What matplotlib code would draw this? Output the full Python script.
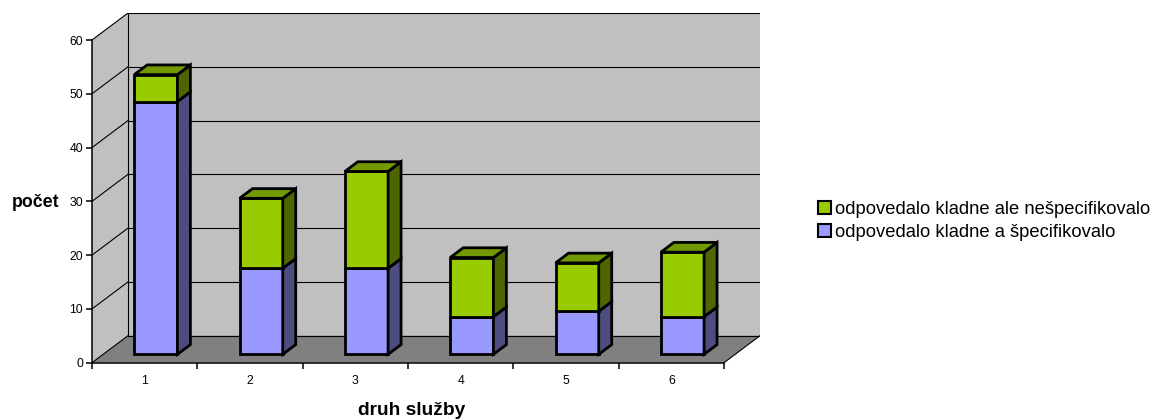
import numpy as np
import matplotlib
matplotlib.use("Agg")
import matplotlib.pyplot as plt
from matplotlib.patches import Polygon, Patch

plt.rcParams["font.family"] = ["Liberation Sans", "DejaVu Sans"]

# data
categories = [1, 2, 3, 4, 5, 6]
specifikovalo = [47, 16, 16, 7, 8, 7]       # odpovedalo kladne a špecifikovalo
nespecifikovalo = [5, 13, 18, 11, 9, 12]    # odpovedalo kladne ale nešpecifikovalo
yticks = [0, 10, 20, 30, 40, 50, 60]

# colours (Excel 3D style)
blue_front, blue_side = "#9999FF", "#4D4D80"
green_front, green_top, green_side = "#99CC00", "#739900", "#4D6600"
wall, floor = "#C0C0C0", "#808080"

W, H = 1157, 419
fig = plt.figure(figsize=(W / 100, H / 100), dpi=100)
# axes placed so the front plane fits the reference pixels
ax = fig.add_axes([92 / W, (H - 362.7) / H, (760 - 92) / W, (362.7 - 13) / H])

DX = 36 / 105.33   # depth offset in x units
DY = 27 / 5.378    # depth offset in y units
ymax = 60
x0, x1 = 0.5, len(categories) + 0.5
ax.set_xlim(x0, x1 + DX)
ax.set_ylim(0, ymax + DY)

lw = 1.1
# walls and floor
ax.add_patch(Polygon([(x0 + DX, DY), (x1 + DX, DY), (x1 + DX, ymax + DY), (x0 + DX, ymax + DY)],
                     closed=True, fc=wall, ec="none", zorder=1))
ax.add_patch(Polygon([(x0, 0), (x0 + DX, DY), (x0 + DX, ymax + DY), (x0, ymax)],
                     closed=True, fc=wall, ec="none", zorder=1))
ax.add_patch(Polygon([(x0, 0), (x1, 0), (x1 + DX, DY), (x0 + DX, DY)],
                     closed=True, fc=floor, ec="none", zorder=1))
for v in yticks:
    ax.plot([x0 + DX, x1 + DX], [v + DY, v + DY], color="black", lw=0.8, zorder=2)
    ax.plot([x0, x0 + DX], [v, v + DY], color="black", lw=0.8, zorder=2)
ax.plot([x0 + DX, x0 + DX], [DY, ymax + DY], color="black", lw=0.8, zorder=2)
ax.plot([x1, x1 + DX], [0, DY], color="black", lw=0.8, zorder=2)

# bars
w = 0.41
f0, f1 = 0.31, 0.67
dx, dy = (f1 - f0) * DX, (f1 - f0) * DY


def box(xc, b, t, front, side, top=None):
    xl = xc - w / 2 + f0 * DX
    xr = xl + w
    yb = b + f0 * DY
    yt = t + f0 * DY
    ax.add_patch(Polygon([(xl, yb), (xr, yb), (xr, yt), (xl, yt)], closed=True,
                         fc=front, ec="black", lw=2, joinstyle="miter", zorder=3))
    ax.add_patch(Polygon([(xr, yb), (xr + dx, yb + dy), (xr + dx, yt + dy), (xr, yt)], closed=True,
                         fc=side, ec="black", lw=2, joinstyle="miter", zorder=3))
    if top is not None:
        ax.add_patch(Polygon([(xl, yt), (xr, yt), (xr + dx, yt + dy), (xl + dx, yt + dy)], closed=True,
                             fc=top, ec="black", lw=2, joinstyle="miter", zorder=3))


for c, a, b in zip(categories, specifikovalo, nespecifikovalo):
    box(c, 0, a, blue_front, blue_side)
    box(c, a, a + b, green_front, green_side, green_top)

# axes
for s in ["top", "right"]:
    ax.spines[s].set_visible(False)
ax.spines["left"].set_bounds(0, ymax)
ax.spines["bottom"].set_bounds(x0, x1)
ax.spines["left"].set_linewidth(lw)
ax.spines["bottom"].set_linewidth(lw)
ax.spines["left"].set_zorder(4)
ax.spines["bottom"].set_zorder(4)

ax.set_yticks(yticks)
ax.tick_params(axis="y", direction="out", length=4.3, width=lw, pad=2, labelsize=8.8)
ax.set_xticks(np.arange(x0, x1 + 0.01, 1.0))
ax.set_xticklabels([])
ax.set_xticks(categories, minor=True)
ax.set_xticklabels([str(c) for c in categories], minor=True)
ax.tick_params(axis="x", which="major", direction="out", length=4.3, width=lw)
ax.tick_params(axis="x", which="minor", length=0, pad=8.5, labelsize=8.8)

fig.text(12 / W, (H - 202) / H, "počet", fontsize=12.8, fontweight="bold", va="center", ha="left")
fig.text(412 / W, (H - 410) / H, "druh služby", fontsize=13.8, fontweight="bold", va="center", ha="center")

handles = [Patch(fc=green_front, ec="black", lw=1.5), Patch(fc=blue_front, ec="black", lw=1.5)]
labels = ["odpovedalo kladne ale nešpecifikovalo", "odpovedalo kladne a špecifikovalo"]
fig.legend(handles, labels, loc="center left", bbox_to_anchor=(818 / W, (H - 221) / H),
           frameon=False, fontsize=13.2, handlelength=0.7, handleheight=0.7,
           handletextpad=0.25, labelspacing=0.32, borderaxespad=0, borderpad=0)

fig.savefig("out.png", dpi=100)
